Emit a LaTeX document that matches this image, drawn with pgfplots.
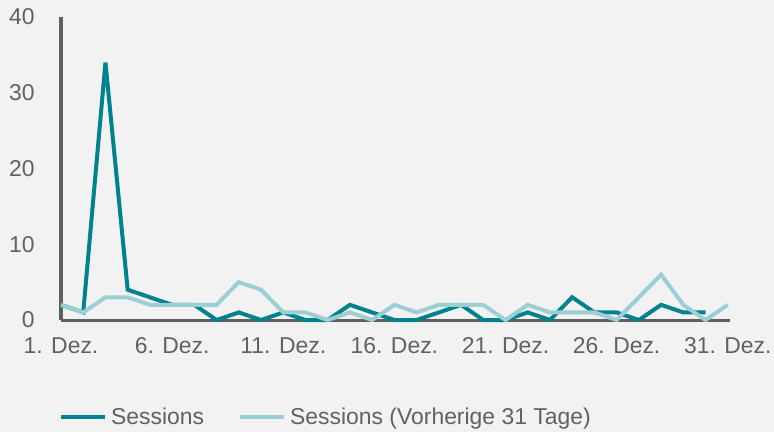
\documentclass[border=0pt]{standalone}
\usepackage{pgfplots}
\pgfplotsset{compat=1.18}
\usepackage{fontspec}
\setmainfont{Liberation Sans}
\definecolor{bgc}{HTML}{F2F2F2}
\definecolor{darkteal}{HTML}{00838F}
\definecolor{lightteal}{HTML}{9BCFD4}
\definecolor{txt}{HTML}{616161}
\definecolor{axc}{HTML}{5F5F5F}
\begin{document}
\begin{tikzpicture}
\fill[bgc] (-61bp,-112bp) rectangle (713bp,320bp);
\begin{axis}[
  at={(0,0)}, anchor=south west,
  scale only axis, width=669bp, height=303bp,
  xmin=1, xmax=31.1, ymin=0, ymax=40,
  axis lines=left, axis line style={axc, line width=3bp, -},
  xtick={1,6,11,16,21,26,31},
  xticklabels={1. Dez.,6. Dez.,11. Dez.,16. Dez.,21. Dez.,26. Dez.,31. Dez.},
  ytick={0,10,20,30,40},
  tick style={draw=none},
  font=\fontsize{23}{27}\selectfont,
  /pgf/number format/assume math mode=true,
  tick label style={txt},
  yticklabel style={anchor=east, inner sep=0pt, xshift=-24bp},
  xticklabel style={anchor=north, inner sep=0pt, yshift=-15bp},
  clip=false,
  legend columns=2,
  legend style={draw=none, fill=none, at={(axis description cs:0,0)}, anchor=north west,
    xshift=-2bp, yshift=-86bp, inner sep=0pt, font=\fontsize{23}{27}\selectfont, text=txt,
    /tikz/every even column/.append style={column sep=32bp},
    /tikz/every odd column/.append style={column sep=2bp}},
  legend image code/.code={\draw[#1, line width=4bp] (0bp,0bp) -- (44bp,0bp);},
  legend cell align=left,
]
\addplot[darkteal, line width=4bp] coordinates {
(1,2)(2,1)(3,34)(4,4)(5,3)(6,2)(7,2)(8,0)(9,1)(10,0)(11,1)(12,0)(13,0)(14,2)(15,1)
(16,0)(17,0)(18,1)(19,2)(20,0)(21,0)(22,1)(23,0)(24,3)(25,1)(26,1)(27,0)(28,2)(29,1)(30,1)};
\addlegendentry{Sessions}
\addplot[lightteal, line width=4bp] coordinates {
(1,2)(2,1)(3,3)(4,3)(5,2)(6,2)(7,2)(8,2)(9,5)(10,4)(11,1)(12,1)(13,0)(14,1)(15,0)
(16,2)(17,1)(18,2)(19,2)(20,2)(21,0)(22,2)(23,1)(24,1)(25,1)(26,0)(27,3)(28,6)(29,2)(30,0)(31,2)};
\addlegendentry{Sessions (Vorherige 31 Tage)}
\end{axis}
\pgfresetboundingbox
\path (-61bp,-112bp) rectangle (713bp,320bp);
\end{tikzpicture}
\end{document}
